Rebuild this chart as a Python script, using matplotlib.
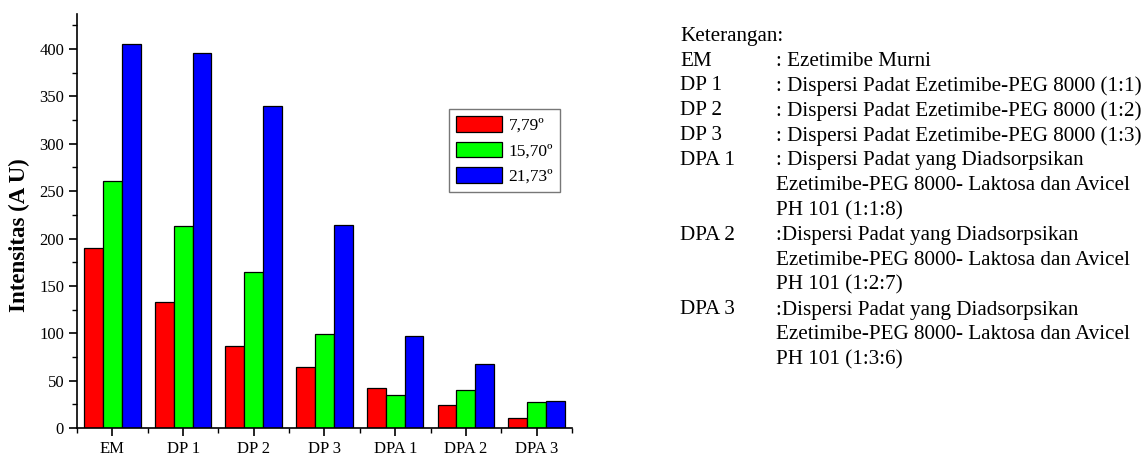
import numpy as np
import matplotlib
matplotlib.use("Agg")
import matplotlib.pyplot as plt
from matplotlib.ticker import MultipleLocator

plt.rcParams['font.family'] = ['Liberation Serif', 'DejaVu Serif']

# Intensitas puncak difraksi untuk tiap sampel
categories = ['EM', 'DP 1', 'DP 2', 'DP 3', 'DPA 1', 'DPA 2', 'DPA 3']
series_labels = ['7,79º', '15,70º', '21,73º']
peak_779 = [190, 133, 87, 64, 42, 24, 11]
peak_1570 = [261, 213, 165, 99, 35, 40, 27]
peak_2173 = [405, 396, 340, 214, 97, 68, 29]
colors = ['#ff0000', '#00ff00', '#0000ff']

notes_codes = ['EM', 'DP 1', 'DP 2', 'DP 3', 'DPA 1', '', '', 'DPA 2', '', '',
               'DPA 3', '', '']
notes_text = [': Ezetimibe Murni',
              ': Dispersi Padat Ezetimibe-PEG 8000 (1:1)',
              ': Dispersi Padat Ezetimibe-PEG 8000 (1:2)',
              ': Dispersi Padat Ezetimibe-PEG 8000 (1:3)',
              ': Dispersi Padat yang Diadsorpsikan',
              'Ezetimibe-PEG 8000- Laktosa dan Avicel',
              'PH 101 (1:1:8)',
              ':Dispersi Padat yang Diadsorpsikan',
              'Ezetimibe-PEG 8000- Laktosa dan Avicel',
              'PH 101 (1:2:7)',
              ':Dispersi Padat yang Diadsorpsikan',
              'Ezetimibe-PEG 8000- Laktosa dan Avicel',
              'PH 101 (1:3:6)']

fig = plt.figure(figsize=(11.46, 4.54), dpi=100)
ax = fig.add_axes([0.0672, 0.0573, 0.4319, 0.9119])

x = np.arange(len(categories))
w = 0.8 / 3
for i, vals in enumerate([peak_779, peak_1570, peak_2173]):
    ax.bar(x + (i - 1) * w, vals, w, color=colors[i], edgecolor='black',
           linewidth=0.9, label=series_labels[i])

ax.set_xlim(-0.5, 6.5)
ax.set_ylim(0, 437)
ax.set_xticks(x)
ax.set_xticklabels(categories)
ax.xaxis.set_minor_locator(MultipleLocator(1, offset=0.5))
ax.yaxis.set_major_locator(MultipleLocator(50))
ax.yaxis.set_minor_locator(MultipleLocator(25))
ax.tick_params(which='major', direction='out', length=5.8, width=1.2,
               labelsize=12, pad=3.5)
ax.tick_params(which='minor', direction='out', length=3.5, width=1.0)
for s in ['top', 'right']:
    ax.spines[s].set_visible(False)
for s in ['left', 'bottom']:
    ax.spines[s].set_linewidth(1.2)

ax.set_ylabel('Intensitas (A U)', fontsize=16.5, fontweight='bold')
ax.yaxis.set_label_coords(-0.094, 0.466)

leg = ax.legend(loc='upper right', bbox_to_anchor=(0.976, 0.770),
                fontsize=12.5, fancybox=False, edgecolor='#555555',
                handlelength=2.6, handleheight=1.0, borderpad=0.4,
                labelspacing=0.45, handletextpad=0.4, borderaxespad=0)
leg.get_frame().set_linewidth(1.0)

# Keterangan di sisi kanan
fs = 15.2
fig.text(680 / 1146, 1 - 37 / 454, 'Keterangan:', fontsize=fs, va='center')
for k, (code, txt) in enumerate(zip(notes_codes, notes_text)):
    yy = 1 - (61 + 24.9 * k) / 454
    if code:
        fig.text(680 / 1146, yy, code, fontsize=fs, va='center')
    fig.text(776 / 1146, yy, txt, fontsize=fs, va='center')

fig.savefig('out.png', dpi=100)
